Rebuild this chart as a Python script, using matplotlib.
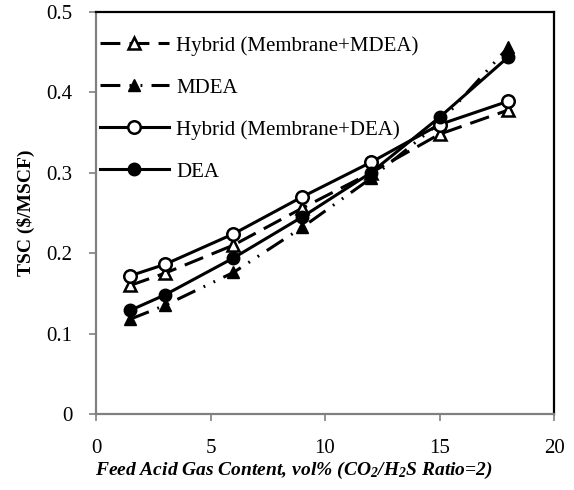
import matplotlib
matplotlib.use("Agg")
import matplotlib.pyplot as plt

plt.rcParams['font.family'] = ['Liberation Serif', 'DejaVu Serif']
plt.rcParams['mathtext.fontset'] = 'custom'
plt.rcParams['mathtext.rm'] = 'Liberation Serif:bold:italic'
plt.rcParams['mathtext.it'] = 'Liberation Serif:bold:italic'
plt.rcParams['mathtext.bf'] = 'Liberation Serif:bold:italic'

x = [1.5, 3, 6, 9, 12, 15, 18]
hybrid_mdea = [0.160, 0.175, 0.210, 0.256, 0.300, 0.348, 0.378]
mdea = [0.118, 0.135, 0.176, 0.232, 0.293, 0.362, 0.456]
hybrid_dea = [0.172, 0.186, 0.224, 0.270, 0.313, 0.360, 0.389]
dea = [0.129, 0.148, 0.194, 0.245, 0.300, 0.369, 0.444]

fig = plt.figure(figsize=(5.74, 4.90), dpi=100)
ax = fig.add_axes([96 / 574, 1 - 414 / 490, (554 - 96) / 574, (414 - 12) / 490])

lw = 2.2
ms = 9
ax.plot(x, hybrid_mdea, color='black', lw=lw, linestyle=(0, (6.5, 3)),
        marker='^', ms=ms, mfc='white', mec='black', mew=1.8,
        label='Hybrid (Membrane+MDEA)')
ax.plot(x, mdea, color='black', lw=lw, linestyle=(0, (6.5, 3, 0.6, 3, 0.6, 3)),
        marker='^', ms=ms, mfc='black', mec='black',
        label='MDEA')
ax.plot(x, hybrid_dea, color='black', lw=lw, linestyle='-',
        marker='o', ms=ms, mfc='white', mec='black', mew=1.8,
        label='Hybrid (Membrane+DEA)')
ax.plot(x, dea, color='black', lw=lw, linestyle='-',
        marker='o', ms=ms, mfc='black', mec='black',
        label='DEA')

ax.set_xlim(0, 20)
ax.set_ylim(0, 0.5)
ax.set_xticks([0, 5, 10, 15, 20])
ax.set_yticks([0, 0.1, 0.2, 0.3, 0.4, 0.5])
ax.set_yticklabels(['0', '0.1', '0.2', '0.3', '0.4', '0.5'])

for s in ['left', 'bottom']:
    ax.spines[s].set_color('#808080')
    ax.spines[s].set_linewidth(1.6)
for s in ['top', 'right']:
    ax.spines[s].set_color('black')
    ax.spines[s].set_linewidth(1.6)
ax.tick_params(axis='both', direction='out', length=5, width=1.2, color='#808080',
               labelsize=15, labelcolor='black')
ax.tick_params(axis='y', pad=12)
ax.tick_params(axis='x', pad=13)

ax.set_ylabel('TSC (\\$/MSCF)', fontsize=14, fontweight='bold', labelpad=8)
ax.set_xlabel('Feed Acid Gas Content, vol% (CO$_2$/H$_2$S Ratio=2)', fontsize=14,
              fontweight='bold', fontstyle='italic')
ax.xaxis.set_label_coords((294 - 96) / 458, -(470 - 414) / 402)
ax.xaxis.label.set_va('center')

ax.legend(loc='upper left', frameon=False, fontsize=15, handlelength=3.3,
          labelspacing=1.07, handletextpad=0.35, borderaxespad=0.0, borderpad=0.0,
          bbox_to_anchor=(4 / 458, 1 - 24 / 402))

fig.savefig('out.png', dpi=100)
